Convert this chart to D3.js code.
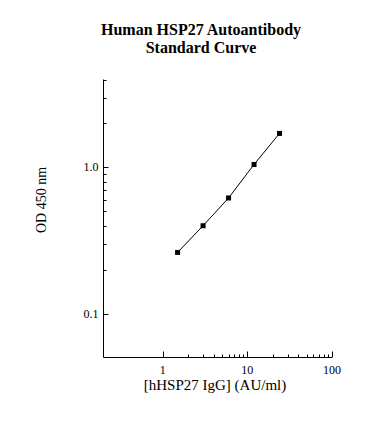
<!DOCTYPE html>
<html>
<head>
<meta charset="utf-8">
<script src="https://cdn.jsdelivr.net/npm/d3@7"></script>
<style>
  body { margin: 0; background: #fff; }
  svg { display: block; }
  text { font-family: "Liberation Serif", "Times New Roman", serif; fill: #000; }
</style>
</head>
<body>
<svg id="chart" width="382" height="437"></svg>
<script>
const concentrations = [1.5, 3, 6, 12, 24];
const odValues = [0.262, 0.399, 0.618, 1.048, 1.71];
const xTickLabels = [1, 10, 100];
const yTickLabels = [0.1, 1.0];
const xMinorTicks = [2, 3, 4, 5, 6, 7, 8, 9, 20, 30, 40, 50, 60, 70, 80, 90];
const yMinorTicks = [0.2, 0.3, 0.4, 0.5, 0.6, 0.7, 0.8, 0.9, 2, 3, 4];
const titleLines = ["Human HSP27 Autoantibody", "Standard Curve"];
const xTitle = "[hHSP27 IgG] (AU/ml)";
const yTitle = "OD 450 nm";

(function () {
const svg = d3.select("#chart");
const pL = 103.5, pR = 332, pT = 79.5, pB = 357.5;

const x = d3.scaleLog().domain([0.2, 100]).range([pL, pR]);
const y = d3.scaleLog().domain([0.05, 4]).range([pB, pT]);

// Title
titleLines.forEach((t, i) => {
  svg.append("text")
    .attr("x", 201).attr("y", 35 + i * 18)
    .attr("text-anchor", "middle")
    .style("font-size", "16px").style("font-weight", "bold")
    .text(t);
});

// Axis lines
svg.append("line").attr("x1", pL).attr("x2", pL).attr("y1", pT).attr("y2", pB)
  .attr("stroke", "#000").attr("stroke-width", 1);
svg.append("line").attr("x1", pL).attr("x2", pR).attr("y1", pB).attr("y2", pB)
  .attr("stroke", "#000").attr("stroke-width", 1);

// X ticks
const xg = svg.append("g");
xg.selectAll("line.major").data(xTickLabels).enter().append("line")
  .attr("class", "major")
  .attr("x1", d => Math.round(x(d)) + 0.5).attr("x2", d => Math.round(x(d)) + 0.5)
  .attr("y1", pB).attr("y2", pB - 6)
  .attr("stroke", "#000");
xg.selectAll("line.minor").data(xMinorTicks).enter().append("line")
  .attr("class", "minor")
  .attr("x1", d => Math.round(x(d)) + 0.5).attr("x2", d => Math.round(x(d)) + 0.5)
  .attr("y1", pB).attr("y2", pB - 3)
  .attr("stroke", "#000");
xg.selectAll("text").data(xTickLabels).enter().append("text")
  .attr("x", d => x(d)).attr("y", pB + 16)
  .attr("text-anchor", "middle")
  .style("font-size", "12px")
  .text(d => d);

// Y ticks
const yg = svg.append("g");
yg.selectAll("line.major").data(yTickLabels).enter().append("line")
  .attr("class", "major")
  .attr("y1", d => Math.round(y(d)) + 0.5).attr("y2", d => Math.round(y(d)) + 0.5)
  .attr("x1", pL).attr("x2", pL + 5)
  .attr("stroke", "#000");
yg.selectAll("line.minor").data(yMinorTicks).enter().append("line")
  .attr("class", "minor")
  .attr("y1", d => Math.round(y(d)) + 0.5).attr("y2", d => Math.round(y(d)) + 0.5)
  .attr("x1", pL).attr("x2", pL + 3)
  .attr("stroke", "#000");
yg.selectAll("text").data(yTickLabels).enter().append("text")
  .attr("x", pL - 5).attr("y", d => y(d) + 4)
  .attr("text-anchor", "end")
  .style("font-size", "12px")
  .text(d => d.toFixed(1));

// Axis titles
svg.append("text")
  .attr("x", 215).attr("y", 390)
  .attr("text-anchor", "middle")
  .style("font-size", "15px")
  .text(xTitle);
svg.append("text")
  .attr("transform", "translate(46,200) rotate(-90)")
  .attr("text-anchor", "middle")
  .style("font-size", "14px")
  .text(yTitle);

// Line and markers
const pts = concentrations.map((c, i) => [c, odValues[i]]);
svg.append("path")
  .datum(pts)
  .attr("fill", "none").attr("stroke", "#000").attr("stroke-width", 1)
  .attr("d", d3.line().x(d => x(d[0])).y(d => y(d[1])));
svg.selectAll("rect.pt").data(pts).enter().append("rect")
  .attr("class", "pt")
  .attr("x", d => x(d[0]) - 2.5).attr("y", d => y(d[1]) - 2.5)
  .attr("width", 5).attr("height", 5)
  .attr("fill", "#000");
})();
</script>
</body>
</html>
